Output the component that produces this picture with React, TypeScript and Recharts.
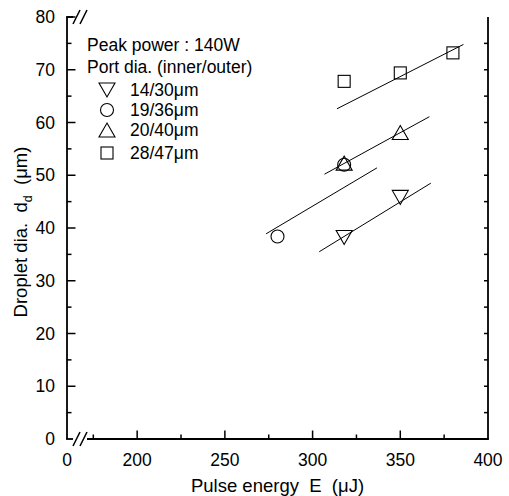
import React from 'react';
import { ScatterChart, Scatter, XAxis, YAxis, ReferenceLine, Customized } from 'recharts';

const W = 509;
const H = 496;
const PL = 67;
const PR = 488;
const PT = 17;
const PB = 439;
const FONT = '"Liberation Sans", Arial, Helvetica, sans-serif';
const FS = 17.5;
const FT = 18.5;

// axis ticks
const xTicks = [160, 175, 200, 225, 250, 275, 300, 325, 350, 375, 400];
const xTickLabels: Record<number, string> = { 160: '0', 200: '200', 250: '250', 300: '300', 350: '350', 400: '400' };
const yTicks = [0, 5, 10, 15, 20, 25, 30, 35, 40, 45, 50, 55, 60, 65, 70, 75, 80];
const yTickLabels = [0, 10, 20, 30, 40, 50, 60, 70, 80];

// data (pulse energy uJ, droplet dia um)
const s1430 = [{ x: 318, y: 38.2 }, { x: 350, y: 45.8 }];
const s1936 = [{ x: 280, y: 38.4 }, { x: 318, y: 52.0 }];
const s2040 = [{ x: 318, y: 52.3 }, { x: 350, y: 58.1 }];
const s2847 = [{ x: 318, y: 67.8 }, { x: 350, y: 69.4 }, { x: 380, y: 73.2 }];

// fitted lines (endpoints)
const f1430 = [{ x: 303.8, y: 35.5 }, { x: 367.4, y: 48.5 }];
const f1936 = [{ x: 273.5, y: 38.9 }, { x: 336.7, y: 51.4 }];
const f2040 = [{ x: 306.8, y: 50.2 }, { x: 366.6, y: 61.1 }];
const f2847 = [{ x: 313.9, y: 62.6 }, { x: 386.0, y: 74.8 }];

const legendItems = ['14/30\u03bcm', '19/36\u03bcm', '20/40\u03bcm', '28/47\u03bcm'];

const SW = 1.1;
const TW = 1.5;

function symbolPath(kind: string, cx: number, cy: number) {
  if (kind === 'down') return <path d={`M${cx - 8},${cy - 7}L${cx + 8},${cy - 7}L${cx},${cy + 7}Z`} fill="none" stroke="#000" strokeWidth={SW} />;
  if (kind === 'up') return <path d={`M${cx - 8},${cy + 7}L${cx + 8},${cy + 7}L${cx},${cy - 7}Z`} fill="none" stroke="#000" strokeWidth={SW} />;
  if (kind === 'circle') return <circle cx={cx} cy={cy} r={6.5} fill="none" stroke="#000" strokeWidth={SW} />;
  return <rect x={cx - 6} y={cy - 6} width={12} height={12} fill="none" stroke="#000" strokeWidth={SW} />;
}

const mkShape = (kind: string) => (p: any) => symbolPath(kind, p.cx, p.cy);

const XTick = (p: any) => {
  const v = p.payload.value;
  const x = p.x;
  const y = p.y;
  const major = xTickLabels[v] !== undefined;
  return (
    <g>
      {v !== 160 && v !== 400 && <line x1={x} y1={y} x2={x} y2={y - (major ? 8.5 : 4.5)} stroke="#000" strokeWidth={TW} />}
      {major && (
        <text x={x} y={y + 21} dy="0.355em" textAnchor="middle" fontFamily={FONT} fontSize={FS} fill="#000">
          {xTickLabels[v]}
        </text>
      )}
    </g>
  );
};

const YTick = (p: any) => {
  const v = p.payload.value;
  const x = p.x;
  const y = p.y;
  const major = yTickLabels.indexOf(v) >= 0;
  return (
    <g>
      {v !== 0 && <line x1={x} y1={y} x2={x + (major ? 8.5 : 4.5)} y2={y} stroke="#000" strokeWidth={TW} />}
      {v !== 0 && v !== 80 && <line x1={x + (PR - PL)} y1={y} x2={x + (PR - PL) - 4} y2={y} stroke="#000" strokeWidth={TW} />}
      {major && (
        <text x={x - 12} y={y} dy="0.355em" textAnchor="end" fontFamily={FONT} fontSize={FS} fill="#000">
          {v}
        </text>
      )}
    </g>
  );
};

const Decor = () => {
  const rows = [90, 110, 130, 153];
  const kinds = ['down', 'circle', 'up', 'square'];
  return (
    <g>
      {/* bottom axis with break */}
      <line x1={PL - 0.9} y1={PB} x2={PL + 6} y2={PB} stroke="#000" strokeWidth={1.8} />
      <line x1={PL + 20} y1={PB} x2={PR + 0.9} y2={PB} stroke="#000" strokeWidth={1.8} />
      <line x1={PL + 6} y1={PB + 7} x2={PL + 13} y2={PB - 7} stroke="#000" strokeWidth={1.5} />
      <line x1={PL + 13} y1={PB + 7} x2={PL + 20} y2={PB - 7} stroke="#000" strokeWidth={1.5} />
      {/* top break marks */}
      <line x1={PL - 0.9} y1={PT} x2={PL + 6} y2={PT} stroke="#000" strokeWidth={1.8} />
      <line x1={PL + 6} y1={PT + 7} x2={PL + 13} y2={PT - 7} stroke="#000" strokeWidth={1.5} />
      <line x1={PL + 13} y1={PT + 7} x2={PL + 20} y2={PT - 7} stroke="#000" strokeWidth={1.5} />
      {/* right axis line */}
      <line x1={PR} y1={PT} x2={PR} y2={PB} stroke="#000" strokeWidth={1.8} />
      {/* legend */}
      <text x={87} y={45} dy="0.355em" fontFamily={FONT} fontSize={FS} fill="#000">Peak power : 140W</text>
      <text x={87} y={67} dy="0.355em" fontFamily={FONT} fontSize={FS} fill="#000">Port dia. (inner/outer)</text>
      {rows.map((ry, i) => (
        <g key={i}>
          {symbolPath(kinds[i], 107, ry)}
          <text x={130} y={ry} dy="0.355em" fontFamily={FONT} fontSize={FS} fill="#000">{legendItems[i]}</text>
        </g>
      ))}
      {/* axis titles */}
      <text x={(PL + PR) / 2} y={485} dy="0.355em" textAnchor="middle" fontFamily={FONT} fontSize={FT} fill="#000" style={{ whiteSpace: 'pre' }}>
        {'Pulse energy  E  (\u03bcJ)'}
      </text>
      <text transform={`translate(20, ${(PT + PB) / 2 + 4}) rotate(-90)`} x={0} y={0} dy="0.355em" textAnchor="middle" fontFamily={FONT} fontSize={FT} fill="#000" style={{ whiteSpace: 'pre' }}>
        <tspan>{'Droplet dia.  d'}</tspan>
        <tspan fontSize={12.5} dy="5">d</tspan>
        <tspan dy="-5">{'  (\u03bcm)'}</tspan>
      </text>
    </g>
  );
};

export default function App() {
  return (
    <div style={{ position: 'absolute', left: 0, top: 0, width: W, height: H, background: '#fff' }}>
      <ScatterChart width={W} height={H} margin={{ top: PT, right: W - PR, left: 0, bottom: 0 }}>
        <XAxis
          type="number"
          dataKey="x"
          domain={[160, 400]}
          ticks={xTicks}
          interval={0}
          allowDataOverflow
          height={H - PB}
          tickSize={0}
          tickMargin={0}
          axisLine={false}
          tickLine={false}
          tick={XTick}
        />
        <YAxis
          type="number"
          dataKey="y"
          domain={[0, 80]}
          ticks={yTicks}
          interval={0}
          allowDataOverflow
          width={PL}
          tickSize={0}
          tickMargin={0}
          axisLine={{ stroke: '#000', strokeWidth: 1.8 }}
          tickLine={false}
          tick={YTick}
        />
        <ReferenceLine segment={f1430} stroke="#000" strokeWidth={1} ifOverflow="visible" />
        <ReferenceLine segment={f1936} stroke="#000" strokeWidth={1} ifOverflow="visible" />
        <ReferenceLine segment={f2040} stroke="#000" strokeWidth={1} ifOverflow="visible" />
        <ReferenceLine segment={f2847} stroke="#000" strokeWidth={1} ifOverflow="visible" />
        <Scatter data={s1430} shape={mkShape('down')} isAnimationActive={false} />
        <Scatter data={s1936} shape={mkShape('circle')} isAnimationActive={false} />
        <Scatter data={s2040} shape={mkShape('up')} isAnimationActive={false} />
        <Scatter data={s2847} shape={mkShape('square')} isAnimationActive={false} />
        <Customized component={Decor} />
      </ScatterChart>
    </div>
  );
}
